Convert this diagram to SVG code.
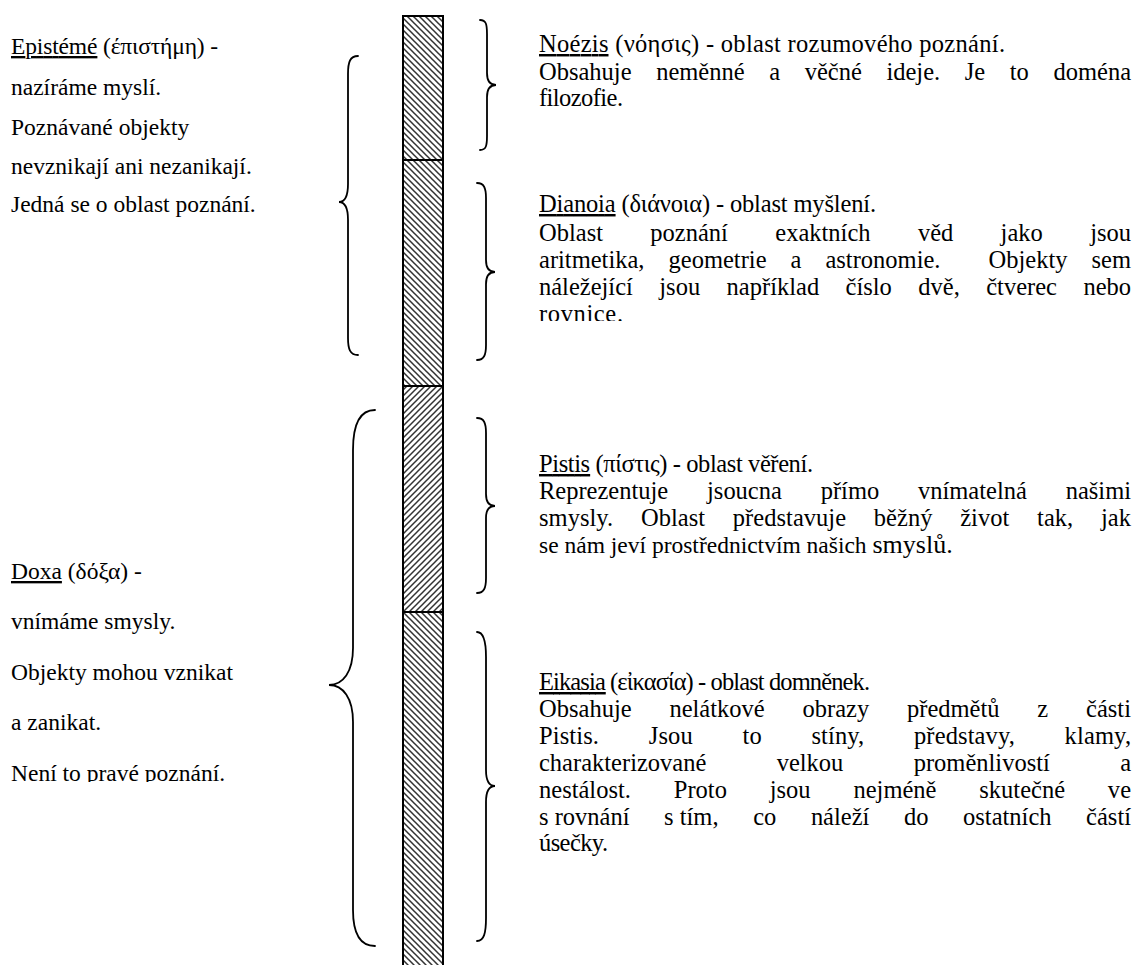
<svg xmlns="http://www.w3.org/2000/svg" width="1141" height="965" viewBox="0 0 1141 965">
<defs>
<pattern id="hatchBack" patternUnits="userSpaceOnUse" x="403" y="0" width="6" height="6">
<path d="M-1,-1 L7,7 M-1,5 L1,7 M5,-1 L7,1" stroke="#333" stroke-width="1.5"/>
</pattern>
<pattern id="hatchFwd" patternUnits="userSpaceOnUse" x="403" y="0" width="6" height="6">
<path d="M-1,7 L7,-1 M-1,1 L1,-1 M5,7 L7,5" stroke="#333" stroke-width="1.5"/>
</pattern>
<clipPath id="clipDia"><rect x="530" y="180" width="611" height="141"/></clipPath>
<clipPath id="clipDoxa"><rect x="0" y="550" width="330" height="232"/></clipPath>
</defs>
<style>
text { font-family: "Liberation Serif", "Times New Roman", serif; font-size: 23.5px; fill: #000; }
.r { font-size: 24.5px; }
.u { text-decoration: underline; }
.brace { fill: none; stroke: #000; stroke-width: 1.8; stroke-linecap: round; }
.div { stroke: #000; stroke-width: 2; }
.ns { word-spacing: 0; }
</style>

<g id="bar">
<rect x="403" y="16" width="40" height="144" fill="url(#hatchBack)"/>
<rect x="403" y="160" width="40" height="226" fill="url(#hatchBack)"/>
<rect x="403" y="386" width="40" height="226" fill="url(#hatchFwd)"/>
<rect x="403" y="612" width="40" height="360" fill="url(#hatchBack)"/>
<rect x="403" y="16" width="40" height="960" fill="none" stroke="#000" stroke-width="2"/>
<line class="div" x1="403" y1="160" x2="443" y2="160"/>
<line class="div" x1="403" y1="386" x2="443" y2="386"/>
<line class="div" x1="403" y1="612" x2="443" y2="612"/>
</g>

<g id="connectors">
<path class="brace" d="M480,20 C486,20 487,24 487,34 L487,73 C487,81 490,85 496,85 C490,85 487,89 487,97 L487,136 C487,146 486,150 480,150"/>
<path class="brace" d="M477,183 C484,183 486,188 486,198 L486,260 C486,268 489,272 495,272 C489,272 486,276 486,284 L486,345 C486,355 484,360 477,360"/>
<path class="brace" d="M477,418 C484,418 486,423 486,433 L486,494 C486,502 489,506 495,506 C489,506 486,510 486,518 L486,578 C486,588 484,593 477,593"/>
<path class="brace" d="M477,632 C484,632 486,642 486,657 L486,770 C486,780 489,786 495,786 C489,786 486,792 486,802 L486,918 C486,933 484,941 477,941"/>
<path class="brace" d="M358,56 C350,56 348,62 348,74 L348,184 C348,195 345,202 339,202 C345,202 348,209 348,220 L348,338 C348,349 350,355 358,355"/>
<path class="brace" d="M375,410 C360,410 353,425 353,450 L353,648 C353,672 343,685 329,685 C343,685 353,698 353,722 L353,910 C353,934 360,946 375,946"/>
</g>

<g id="episteme">
<text x="11" y="54" textLength="207" lengthAdjust="spacing"><tspan class="u">Epistémé</tspan> (έπιστήμη) -</text>
<text x="11" y="95">nazíráme myslí.</text>
<text x="11" y="135">Poznávané objekty</text>
<text x="11" y="174">nevznikají ani nezanikají.</text>
<text x="11" y="212">Jedná se o oblast poznání.</text>
</g>

<g id="doxa">
<text x="11" y="579"><tspan class="u">Doxa</tspan> (δόξα) -</text>
<text x="11" y="629">vnímáme smysly.</text>
<text x="11" y="680">Objekty mohou vznikat</text>
<text x="11" y="730">a zanikat.</text>
<text x="11" y="781" clip-path="url(#clipDoxa)">Není to pravé poznání.</text>
</g>

<g id="noezis">
<text class="r" x="539" y="52" textLength="466" lengthAdjust="spacing"><tspan class="u">Noézis</tspan> (νόησις) - oblast rozumového poznání.</text>
<text class="r" x="539" y="80" style="word-spacing:18.5px" textLength="592" lengthAdjust="spacing">Obsahuje neměnné a věčné ideje. Je to doména</text>
<text class="r" x="539" y="106" textLength="84" lengthAdjust="spacing">filozofie.</text>
</g>

<g id="dianoia">
<text class="r" x="539" y="212" textLength="337" lengthAdjust="spacing"><tspan class="u">Dianoia</tspan> (διάνοια) - oblast myšlení.</text>
<text class="r" x="539" y="241" style="word-spacing:41.2px" textLength="592" lengthAdjust="spacing">Oblast poznání exaktních věd jako jsou</text>
<text class="r" x="539" y="268" style="word-spacing:17.9px" textLength="592" lengthAdjust="spacing">aritmetika, geometrie a astronomie.&#160; Objekty sem</text>
<text class="r" x="539" y="295" style="word-spacing:20.3px" textLength="592" lengthAdjust="spacing">náležející jsou například číslo dvě, čtverec nebo</text>
<text class="r" x="539" y="322" clip-path="url(#clipDia)" textLength="84" lengthAdjust="spacing">rovnice.</text>
</g>

<g id="pistis">
<text class="r" x="539" y="472" textLength="274" lengthAdjust="spacing"><tspan class="u">Pistis</tspan> (πίστις) - oblast věření.</text>
<text class="r" x="539" y="499" style="word-spacing:32.7px" textLength="592" lengthAdjust="spacing">Reprezentuje jsoucna přímo vnímatelná našimi</text>
<text class="r" x="539" y="526" style="word-spacing:21.6px" textLength="592" lengthAdjust="spacing">smysly. Oblast představuje běžný život tak, jak</text>
<text x="539" y="553">se nám jeví prostřednictvím našich <tspan style="font-size:26px">smyslů.</tspan></text>
</g>

<g id="eikasia">
<text class="r" x="539" y="690" textLength="331" lengthAdjust="spacing"><tspan class="u">Eikasia</tspan> (εἰκασία) - oblast domněnek.</text>
<text class="r" x="539" y="717" style="word-spacing:31.7px" textLength="592" lengthAdjust="spacing">Obsahuje nelátkové obrazy předmětů z části</text>
<text class="r" x="539" y="744" style="word-spacing:43.4px" textLength="592" lengthAdjust="spacing">Pistis. Jsou to stíny, představy, klamy,</text>
<text class="r" x="539" y="771" style="word-spacing:64.2px" textLength="592" lengthAdjust="spacing">charakterizované velkou proměnlivostí a</text>
<text class="r" x="539" y="798" style="word-spacing:36.7px" textLength="592" lengthAdjust="spacing">nestálost. Proto jsou nejméně skutečné ve</text>
<text class="r" x="539" y="825" style="word-spacing:28.5px" textLength="592" lengthAdjust="spacing"><tspan class="ns">s rovnání</tspan> <tspan class="ns">s tím,</tspan> co náleží do ostatních částí</text>
<text class="r" x="539" y="851" textLength="69" lengthAdjust="spacing">úsečky.</text>
</g>
</svg>
